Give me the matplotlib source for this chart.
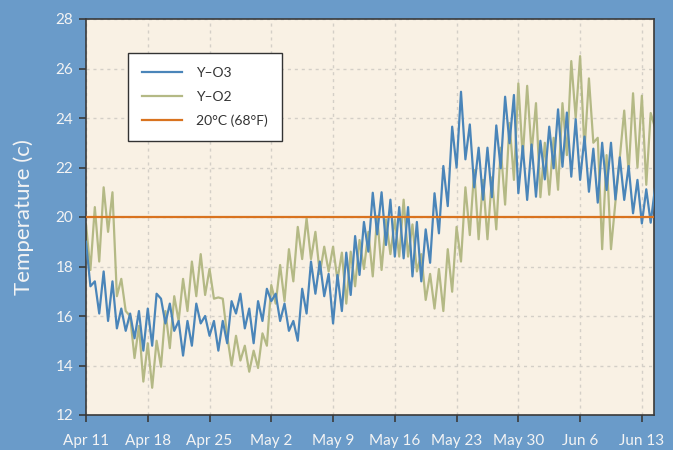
import numpy as np
import matplotlib
matplotlib.use("Agg")
import matplotlib.pyplot as plt
import matplotlib.dates as mdates

plt.rcParams['font.family'] = ['Lato', 'DejaVu Sans']

start = np.datetime64('2016-04-11T00:00')
# readings every 12 hours
y_o3 = [19.0, 17.2, 17.4, 16.1, 17.8, 15.8, 17.4, 15.5, 16.3, 15.4,
        16.1, 15.1, 16.2, 14.6, 16.3, 14.8, 16.9, 16.7, 15.7, 16.5,
        15.4, 15.8, 14.4, 15.8, 14.8, 16.5, 15.7, 16.0, 15.2, 15.8,
        14.6, 15.8, 14.9, 16.6, 16.1, 16.9, 15.5, 16.3, 14.9, 16.6,
        15.8, 17.1, 16.6, 16.9, 15.8, 16.5, 15.4, 15.8, 15.0, 17.1,
        16.1, 18.2, 16.9, 18.2, 16.8, 17.7, 15.7,
        17.66, 16.2, 18.56, 16.85, 19.23, 17.66, 19.8, 18.6, 20.98, 19.3,
        21.0, 18.87, 20.7, 18.4, 20.4, 18.33, 20.4, 17.6, 19.8, 17.4,
        19.5, 18.15, 20.96, 19.34, 22.06, 20.44, 23.65, 22.0, 25.06, 22.33,
        23.74, 21.2, 22.8, 20.7, 22.8, 20.8, 23.7, 21.97, 24.86, 22.98,
        24.93, 20.96, 22.87, 20.69, 22.93, 20.82, 23.08, 21.52, 23.65, 21.97,
        24.35, 22.03, 24.22, 21.63, 23.95, 21.5, 23.25, 21.02, 22.76, 20.58,
        23.0, 21.09, 23.0, 20.71, 22.41, 20.69, 22.06, 20.15, 21.5, 19.74,
        21.12, 19.77, 21.2]
y_o2 = [19.7, 17.86, 20.4, 18.2, 21.2, 19.4, 21.0, 16.8, 17.5, 16.2,
        16.0, 14.3, 15.6, 13.35, 14.9, 13.1, 15.0, 13.95, 16.2, 14.7,
        16.8, 15.8, 17.5, 16.2, 18.2, 16.8, 18.5, 16.85, 17.9, 16.7,
        16.75, 16.7, 15.2, 14.0, 15.2, 14.2, 14.8, 13.75, 14.6, 13.9,
        15.3, 14.8, 17.25, 16.5, 18.06, 16.6, 18.7, 17.4, 19.6, 18.3,
        19.95, 18.3, 19.4, 17.7, 18.8, 17.8, 18.8, 17.45, 18.56, 16.5,
        18.6, 17.2, 19.07, 17.9, 19.4, 17.6, 20.04, 17.86, 19.9, 18.5,
        19.9, 18.4, 20.7, 18.4, 19.7, 17.8, 18.5, 16.65, 17.7, 16.3,
        17.9, 16.2, 18.7, 16.98, 19.6, 18.2, 21.2, 19.27, 21.9, 19.1,
        21.5, 19.1, 21.6, 19.5, 22.8, 20.5, 23.8, 21.5, 25.4, 22.4,
        25.3, 22.6, 24.6, 20.8, 23.0, 20.9, 23.2, 21.1, 24.6, 22.5,
        26.3, 24.0, 26.5, 22.7, 25.6, 23.0, 23.2, 18.7, 22.5, 18.7,
        20.6, 22.4, 24.3, 21.8, 25.0, 22.0, 24.9, 21.3, 24.2, 23.6]
threshold = 20.0
labels = ['Y–O3', 'Y–O2', '20°C (68°F)']
colors = ['#4a85b9', '#b4b985', '#d9731f']

t3 = start + np.arange(len(y_o3)) * np.timedelta64(12, 'h')
t2 = start + np.arange(len(y_o2)) * np.timedelta64(12, 'h')

bg = '#6a9bc9'
fig = plt.figure(figsize=(6.73, 4.5), dpi=100, facecolor=bg)
ax = fig.add_axes([86/673, 1-415/450, (654-86)/673, (415-19)/450])
ax.set_facecolor('#f9f1e4')

l2, = ax.plot(t2, y_o2, color=colors[1], lw=1.6, zorder=2)
l3, = ax.plot(t3, y_o3, color=colors[0], lw=1.6, zorder=3)
lo = ax.axhline(threshold, color=colors[2], lw=1.6, zorder=4)

ax.set_ylim(12, 28)
ax.set_yticks(np.arange(12, 29, 2))
ax.set_xlim(start, start + np.timedelta64(int(64.4*24), 'h'))
xt = start + np.arange(0, 64, 7) * np.timedelta64(1, 'D')
ax.set_xticks(xt)
ax.set_xticklabels([mdates.num2date(mdates.date2num(d)).strftime('%b ') +
                    str(mdates.num2date(mdates.date2num(d)).day) for d in xt])

ax.grid(True, color='#d4cfc7', linestyle=(0, (2.2, 2.8)), lw=1.0, zorder=0)
for s in ax.spines.values():
    s.set_color('#3a3a3a')
    s.set_linewidth(1.2)
ax.tick_params(axis='both', colors='#3a3a3a', labelcolor='#f4f4f4',
               labelsize=11, direction='out', length=5, width=1.2)
ax.tick_params(axis='x', pad=9)
ax.tick_params(axis='y', pad=4)
ax.set_ylabel('Temperature (c)', color='#f4f4f4', fontsize=16, labelpad=16)

leg = ax.legend([l3, l2, lo], labels, loc='upper left',
                bbox_to_anchor=(0.074, 0.914), borderaxespad=0,
                fancybox=False, framealpha=1, facecolor='white',
                edgecolor='#333333', fontsize=10, handlelength=2.9,
                labelspacing=0.85, borderpad=1.0, handletextpad=1.0)
leg.get_frame().set_linewidth(1.0)
for txt in leg.get_texts():
    txt.set_color('#333333')

fig.savefig('out.png', dpi=100, facecolor=bg)
